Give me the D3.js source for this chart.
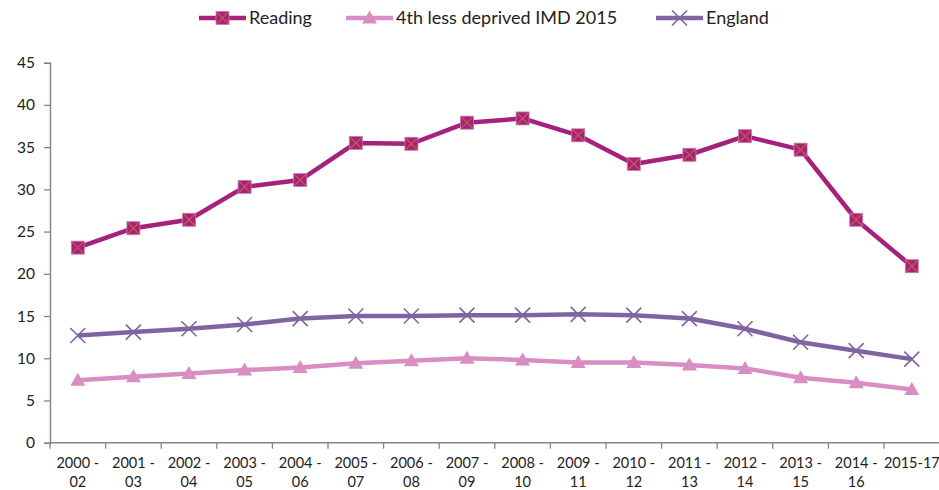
<!DOCTYPE html>
<html>
<head>
<meta charset="utf-8">
<script src="https://cdn.jsdelivr.net/npm/d3@7"></script>
<style>
  body { margin: 0; background: #fff; }
  svg { font-family: Lato, "Liberation Sans", sans-serif; }
</style>
</head>
<body>
<div id="chart-area"></div>
<script>
var periods = ["2000 - 02", "2001 - 03", "2002 - 04", "2003 - 05", "2004 - 06", "2005 - 07", "2006 - 08", "2007 - 09",
  "2008 - 10", "2009 - 11", "2010 - 12", "2011 - 13", "2012 - 14", "2013 - 15", "2014 - 16", "2015-17"];
var reading = [23.1, 25.4, 26.4, 30.3, 31.1, 35.5, 35.4, 37.9, 38.4, 36.4, 33.0, 34.1, 36.3, 34.7, 26.4, 20.9];
var deprived = [7.4, 7.8, 8.2, 8.6, 8.9, 9.4, 9.7, 10.0, 9.8, 9.5, 9.5, 9.2, 8.8, 7.7, 7.1, 6.3];
var england = [12.7, 13.1, 13.5, 14.0, 14.7, 15.0, 15.0, 15.1, 15.1, 15.2, 15.1, 14.7, 13.5, 11.9, 10.9, 9.9];
var yTicks = [0, 5, 10, 15, 20, 25, 30, 35, 40, 45];

var series = [
  { name: "Reading", values: reading, color: "#A6217C", marker: "square" },
  { name: "4th less deprived IMD 2015", values: deprived, color: "#D88EC2", marker: "triangle" },
  { name: "England", values: england, color: "#8064A2", marker: "cross" }
];

var width = 939, height = 490;
var svg = d3.select("#chart-area").append("svg")
  .attr("width", width).attr("height", height);

var x = d3.scaleBand().domain(periods).range([50, 939.6]);
var y = d3.scaleLinear().domain([0, 45]).range([442.7, 62.7]);
var cx = d => x(d) + x.bandwidth() / 2;
var axisColor = "#868686";

// Y axis
var yAxis = svg.append("g")
  .attr("transform", "translate(50,0)")
  .call(d3.axisLeft(y).tickValues(yTicks).tickSize(6).tickPadding(9));
yAxis.select(".domain").attr("stroke", axisColor).attr("stroke-width", 1.5);
yAxis.selectAll(".tick line").attr("stroke", axisColor).attr("stroke-width", 1.3);
yAxis.selectAll(".tick text").attr("font-size", 15.5).attr("fill", "#222")
  .attr("font-family", "Lato, sans-serif");

// X axis
var xAxis = svg.append("g")
  .attr("transform", "translate(0," + y(0) + ")")
  .call(d3.axisBottom(x).tickSize(0).tickPadding(0));
xAxis.select(".domain").attr("stroke", axisColor).attr("stroke-width", 1.5)
  .attr("d", "M50,0H939.6");
xAxis.selectAll(".tick text").each(function (d) {
  var t = d3.select(this).text("")
    .attr("font-size", 14.5).attr("fill", "#222")
    .attr("font-family", "Lato, sans-serif").attr("dy", null).attr("y", 0);
  var parts = d.indexOf(" - ") >= 0 ? [d.split(" - ")[0] + " -", d.split(" - ")[1]] : [d];
  parts.forEach((p, i) => {
    t.append("tspan").attr("x", 0).attr("y", 25 + i * 19).text(p);
  });
});
var bounds = periods.map(p => x(p)).concat([x.range()[1]]);
svg.append("g").selectAll("line").data(bounds).join("line")
  .attr("x1", d => d).attr("x2", d => d)
  .attr("y1", y(0)).attr("y2", y(0) + 6)
  .attr("stroke", axisColor).attr("stroke-width", 1.3);

function drawMarker(g, type, color, px, py) {
  if (type === "square") {
    g.append("rect").attr("x", px - 6.5).attr("y", py - 6.5).attr("width", 13).attr("height", 13)
      .attr("fill", color).attr("stroke", "#C67BB3").attr("stroke-width", 0.8);
    g.append("path").attr("d", `M${px - 5.5},${py - 5.5}L${px + 5.5},${py + 5.5}M${px - 5.5},${py + 5.5}L${px + 5.5},${py - 5.5}`)
      .attr("stroke", "#C55A45").attr("stroke-width", 1.3);
  } else if (type === "triangle") {
    g.append("path").attr("d", `M${px},${py - 7.5}L${px + 7.5},${py + 5.5}L${px - 7.5},${py + 5.5}Z`)
      .attr("fill", color);
  } else {
    g.append("path").attr("d", `M${px - 7.5},${py - 7.5}L${px + 7.5},${py + 7.5}M${px - 7.5},${py + 7.5}L${px + 7.5},${py - 7.5}`)
      .attr("stroke", color).attr("stroke-width", 1.6);
  }
}

var line = d3.line().x((d, i) => cx(periods[i])).y(d => y(d));

series.forEach(s => {
  svg.append("path").datum(s.values)
    .attr("d", line).attr("fill", "none")
    .attr("stroke", s.color).attr("stroke-width", 4.5)
    .attr("stroke-linejoin", "round");
  var mg = svg.append("g");
  s.values.forEach((v, i) => drawMarker(mg, s.marker, s.color, cx(periods[i]), y(v)));
});

// Legend
var legendX = [199, 346, 656];
series.forEach((s, i) => {
  var lg = svg.append("g").attr("transform", `translate(${legendX[i]},18)`);
  lg.append("line").attr("x1", 0).attr("x2", 47).attr("y1", 0).attr("y2", 0)
    .attr("stroke", s.color).attr("stroke-width", 4.5);
  drawMarker(lg, s.marker, s.color, 23.5, 0);
  lg.append("text").attr("x", 50).attr("y", 6).attr("font-size", 18).attr("fill", "#222")
    .text(s.name);
});
</script>
</body>
</html>
